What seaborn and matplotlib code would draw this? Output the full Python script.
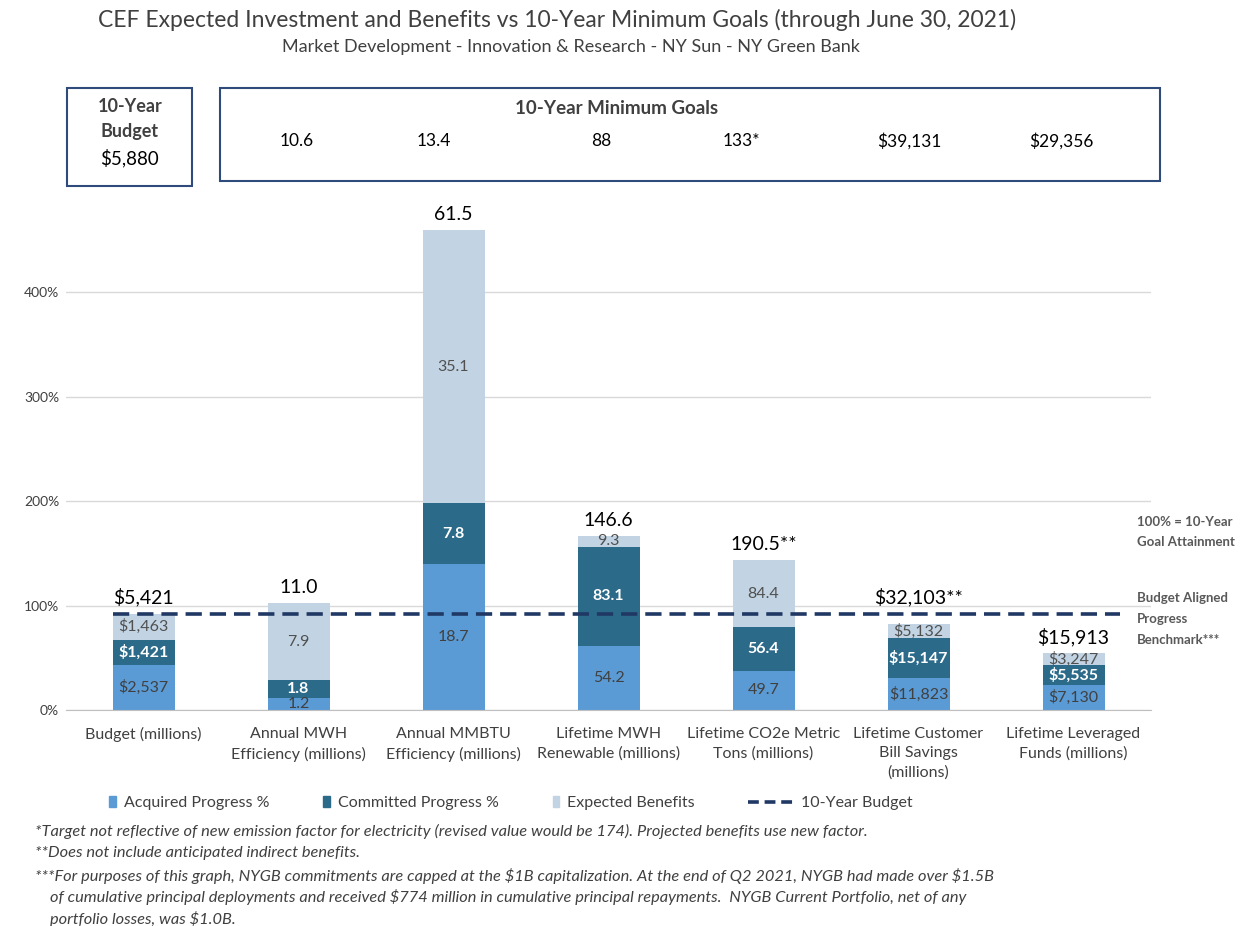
import numpy as np
import matplotlib
matplotlib.use("Agg")
import matplotlib.pyplot as plt
import matplotlib.transforms as mtransforms
from matplotlib.patches import Rectangle, Patch
from matplotlib.lines import Line2D
import seaborn as sns

# chart values
categories = ["Budget (millions)", "Annual MWH\nEfficiency (millions)",
              "Annual MMBTU\nEfficiency (millions)", "Lifetime MWH\nRenewable (millions)",
              "Lifetime CO2e Metric\nTons (millions)", "Lifetime Customer\nBill Savings\n(millions)",
              "Lifetime Leveraged\nFunds (millions)"]
acquired = [2537, 1.2, 18.7, 54.2, 49.7, 11823, 7130]
committed = [1421, 1.8, 7.8, 83.1, 56.4, 15147, 5535]
expected = [1463, 7.9, 35.1, 9.3, 84.4, 5132, 3247]
goals = [5880, 10.6, 13.4, 88, 133, 39131, 29356]
is_money = [True, False, False, False, False, True, True]
total_labels = ["$5,421", "11.0", "61.5", "146.6", "190.5**", "$32,103**", "$15,913"]
goal_labels = ["10.6", "13.4", "88", "133*", "$39,131", "$29,356"]
budget_goal_label = "$5,880"

footnotes = [
    "*Target not reflective of new emission factor for electricity (revised value would be 174). Projected benefits use new factor.",
    "**Does not include anticipated indirect benefits.",
    "***For purposes of this graph, NYGB commitments are capped at the $1B capitalization. At the end of Q2 2021, NYGB had made over $1.5B",
    "of cumulative principal deployments and received $774 million in cumulative principal repayments.  NYGB Current Portfolio, net of any",
    "portfolio losses, was $1.0B.",
]

C_ACQ = "#5B9BD5"
C_COM = "#2C6A8A"
C_EXP = "#C2D4E3"
C_NAVY = "#203864"
C_TXT = "#404040"

sns.set_style("white")
plt.rcParams["font.family"] = ["Lato", "DejaVu Sans"]

goals_a = np.array(goals, dtype=float)
acq_pct = np.array(acquired) / goals_a * 100
com_pct = np.array(committed) / goals_a * 100
exp_pct = np.array(expected) / goals_a * 100
benchmark = (acquired[0] + committed[0] + expected[0]) / goals[0] * 100

W, H = 1244, 926
fig = plt.figure(figsize=(W / 100, H / 100), dpi=100)
ax = fig.add_axes([66 / W, 1 - 710 / H, (1151 - 66) / W, (710 - 219) / H])

def ft(xp, yp, s, **kw):
    fig.text(xp / W, 1 - yp / H, s, parse_math=False, **kw)

# stacked bars drawn from the top segment down
sns.barplot(x=categories, y=acq_pct + com_pct + exp_pct, color=C_EXP, width=0.4,
            linewidth=0, saturation=1, ax=ax)
sns.barplot(x=categories, y=acq_pct + com_pct, color=C_COM, width=0.4,
            linewidth=0, saturation=1, ax=ax)
sns.barplot(x=categories, y=acq_pct, color=C_ACQ, width=0.4,
            linewidth=0, saturation=1, ax=ax)

ax.hlines(benchmark, -0.2, 6.3, colors=C_NAVY, linestyles=(0, (4.5, 2.2)), lw=2.6, zorder=5)

def fmt(v, money):
    return "${:,.0f}".format(v) if money else "{:.1f}".format(v)

for i in range(len(categories)):
    a, c, e = acq_pct[i], com_pct[i], exp_pct[i]
    ax.text(i, a / 2, fmt(acquired[i], is_money[i]), ha="center", va="center",
            fontsize=11.5, color=C_TXT, zorder=6)
    ax.text(i, a + c / 2, fmt(committed[i], is_money[i]), ha="center", va="center",
            fontsize=11.5, color="white", fontweight="bold", zorder=6)
    ax.text(i, a + c + e / 2, fmt(expected[i], is_money[i]), ha="center", va="center",
            fontsize=11.5, color="#505050", zorder=6)
    top = a + c + e
    ly = max(top, benchmark) if abs(top - benchmark) < 15 else top
    ax.annotate(total_labels[i], (i, ly), xytext=(0, 5), textcoords="offset points",
                ha="center", va="bottom", fontsize=14, color="black")

ax.set_ylim(0, 470)
ax.set_xlim(-0.5, 6.5)
ax.set_yticks([0, 100, 200, 300, 400])
ax.set_yticklabels(["0%", "100%", "200%", "300%", "400%"])
ax.yaxis.grid(True, color="#D9D9D9", lw=1)
ax.set_axisbelow(True)
for s in ["top", "right", "left"]:
    ax.spines[s].set_visible(False)
ax.spines["bottom"].set_color("#BFBFBF")
ax.tick_params(axis="y", length=0, pad=5, labelsize=10, labelcolor=C_TXT)
ax.tick_params(axis="x", which="major", length=0, pad=12, labelsize=11.5, labelcolor=C_TXT)
for lab in ax.get_xticklabels():
    lab.set_linespacing(1.5)
ax.set_xticks(np.arange(-0.5, 7, 1), minor=True)
ax.tick_params(axis="x", which="minor", length=6, color="#BFBFBF", direction="out")
ax.set_xlabel("")
ax.set_ylabel("")

# titles
ft(557, 20, "CEF Expected Investment and Benefits vs 10-Year Minimum Goals (through June 30, 2021)",
   ha="center", va="center", fontsize=16.5, color=C_TXT)
ft(571, 47, "Market Development - Innovation & Research - NY Sun - NY Green Bank",
   ha="center", va="center", fontsize=13, color=C_TXT)

# goal boxes
for x0, y0, x1, y1 in [(67, 88, 192, 186), (220, 88, 1160, 181)]:
    fig.patches.append(Rectangle((x0 / W, 1 - y1 / H), (x1 - x0) / W, (y1 - y0) / H,
                                 transform=fig.transFigure, fill=False,
                                 edgecolor="#2F4B7C", lw=1.5))
ft(130, 107, "10-Year", ha="center", va="center", fontsize=13, fontweight="bold", color=C_TXT)
ft(130, 131, "Budget", ha="center", va="center", fontsize=13, fontweight="bold", color=C_TXT)
ft(129, 158, budget_goal_label, ha="center", va="center", fontsize=13.5, color="black")
ft(617, 108, "10-Year Minimum Goals", ha="center", va="center", fontsize=13.5,
   fontweight="bold", color=C_TXT)
blend = mtransforms.blended_transform_factory(ax.transData, fig.transFigure)
goal_nudge = [-0.01, -0.13, -0.05, -0.14, -0.06, -0.08]  # text sits a little left of bar centres
for i, g in enumerate(goal_labels):
    fig.text(i + 1 + goal_nudge[i], 1 - 141 / H, g, transform=blend, ha="center", va="center",
             fontsize=12.5, color="black", parse_math=False)

# right-side notes
ft(1137, 532, "100% = 10-Year\nGoal Attainment", ha="left", va="center", fontsize=9.5,
   fontweight="bold", color="#595959", linespacing=1.9)
ft(1137, 619, "Budget Aligned\nProgress\nBenchmark***", ha="left", va="center", fontsize=9.5,
   fontweight="bold", color="#595959", linespacing=1.85)

# legend
patches = [Patch(color=C_ACQ), Patch(color=C_COM), Patch(color=C_EXP)]
fig.legend(patches, ["Acquired Progress %", "Committed Progress %", "Expected Benefits"],
           loc="center", bbox_to_anchor=(402 / W, 1 - 803 / H), ncol=3, frameon=False,
           fontsize=11.5, handlelength=0.4, handleheight=0.75, handletextpad=0.5,
           columnspacing=3.4, labelcolor=C_TXT)
fig.legend([Line2D([], [], color=C_NAVY, lw=2.6, linestyle=(0, (3, 1.6)))], ["10-Year Budget"],
           loc="center", bbox_to_anchor=(830 / W, 1 - 803 / H), frameon=False,
           fontsize=11.5, handlelength=3.0, handletextpad=0.3, labelcolor=C_TXT)

# footnotes
for (xp, yp), s in zip([(35, 831), (35, 853), (35, 876), (50, 897), (50, 919)], footnotes):
    ft(xp, yp, s, ha="left", va="center", fontsize=11.8, style="italic", color=C_TXT)

fig.savefig("out.png", dpi=100)
